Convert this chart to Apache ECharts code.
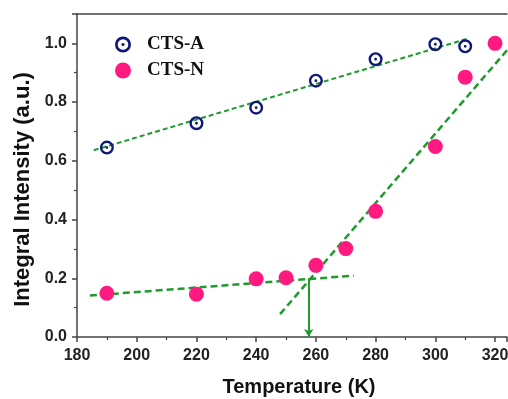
<!DOCTYPE html>
<html><head><meta charset="utf-8">
<script src="https://cdn.jsdelivr.net/npm/echarts@6/dist/echarts.min.js"></script>
<style>html,body{margin:0;padding:0;background:#fff}#c{width:508px;height:399px}</style>
</head><body><div id="c"></div>
<script>
var temperaturesA = [190, 220, 240, 260, 280, 300, 310];
var intensityA = [0.645, 0.728, 0.781, 0.873, 0.946, 0.997, 0.990];
var temperaturesN = [190, 220, 240, 250, 260, 270, 280, 300, 310, 320];
var intensityN = [0.149, 0.146, 0.198, 0.202, 0.244, 0.301, 0.428, 0.649, 0.885, 1.0];
var fitA = [[185.6, 0.636], [310.5, 1.015]];
var fitNLow = [[184.3, 0.141], [272.7, 0.209]];
var fitNHigh = [[248.0, 0.078], [326.0, 1.0]];
var arrowX = 257.6, arrowTop = 0.2, arrowBottom = 0.0;
var xTicks = [180, 200, 220, 240, 260, 280, 300, 320];
var yTicks = [0.0, 0.2, 0.4, 0.6, 0.8, 1.0];

var ringDot = 'path://M0,10 A10,10 0 1,1 20,10 A10,10 0 1,1 0,10 Z M3.4,10 A6.6,6.6 0 1,0 16.6,10 A6.6,6.6 0 1,0 3.4,10 Z M8,10 A2,2 0 1,1 12,10 A2,2 0 1,1 8,10 Z';
var green = '#1e9a2e';
function pairs(xs, ys){ return xs.map(function(x,i){return [x, ys[i]];}); }

var chart = echarts.init(document.getElementById('c'), null, {renderer:'canvas'});
chart.setOption({
  animation: false,
  backgroundColor: '#fff',
  grid: {left: 77, top: 14, right: 1, bottom: 62, containLabel: false, outerBoundsMode: 'none'},
  legend: {
    orient: 'vertical', left: 110, top: 30, itemGap: 7, itemWidth: 16, itemHeight: 16,
    data: [{name:'CTS-A', icon: ringDot}, {name:'CTS-N', icon:'circle'}],
    textStyle: {fontFamily: 'Liberation Serif', fontWeight: 'bold', fontSize: 19, color: '#111', padding:[0,0,0,11]}
  },
  xAxis: [{
    type: 'value', min: 180, max: 324, interval: 20, position: 'bottom',
    name: 'Temperature (K)', nameLocation: 'middle', nameGap: 40,
    nameTextStyle: {fontFamily: 'Liberation Sans', fontWeight: 'bold', fontSize: 20, color: '#111', padding: [0, 0, 0, 14]},
    axisLine: {show: true, onZero: false, lineStyle: {color: '#444', width: 1.5}},
    axisTick: {show: true, length: 5, lineStyle: {color: '#444', width: 1.5}},
    minorTick: {show: true, splitNumber: 2, length: 3, lineStyle: {color: '#444', width: 1.2}},
    axisLabel: {fontFamily: 'Liberation Sans', fontWeight: 'bold', fontSize: 16, color: '#222', margin: 11,
      formatter: function(v){ return xTicks.indexOf(v) >= 0 ? String(v) : ''; }},
    splitLine: {show: false}
  }, {
    type: 'value', min: 180, max: 324, position: 'top',
    axisLine: {show: true, onZero: false, lineStyle: {color: '#444', width: 1.5}},
    axisTick: {show: false}, axisLabel: {show: false}, splitLine: {show: false}
  }],
  yAxis: {
    type: 'value', min: 0, max: 1.1, interval: 0.2,
    name: 'Integral Intensity (a.u.)', nameLocation: 'middle', nameGap: 38,
    nameTextStyle: {fontFamily: 'Liberation Sans', fontWeight: 'bold', fontSize: 22, color: '#111', padding: [0, 28, 0, 0]},
    axisLine: {show: true, onZero: false, lineStyle: {color: '#444', width: 1.5}},
    axisTick: {show: true, length: 5, lineStyle: {color: '#444', width: 1.5}},
    minorTick: {show: true, splitNumber: 2, length: 3, lineStyle: {color: '#444', width: 1.2}},
    axisLabel: {fontFamily: 'Liberation Sans', fontWeight: 'bold', fontSize: 16, color: '#222', margin: 10,
      formatter: function(v){ var r = Math.round(v*10)/10; return yTicks.indexOf(r) >= 0 && Math.abs(v-r)<1e-6 ? r.toFixed(1) : ''; }},
    splitLine: {show: false}
  },
  series: [
    {name: 'fitA', type: 'line', data: fitA, symbol: 'none', silent: true, z: 1,
     lineStyle: {color: green, width: 2, type: [5, 3]}},
    {name: 'fitNLow', type: 'line', data: fitNLow, symbol: 'none', silent: true, z: 1,
     lineStyle: {color: green, width: 2.5, type: [7, 4]}},
    {name: 'fitNHigh', type: 'line', data: fitNHigh, symbol: 'none', silent: true, z: 1,
     lineStyle: {color: green, width: 2.5, type: [7, 4]},
     markLine: {silent: true, symbol: ['none', 'arrow'], symbolSize: [7, 8], label: {show: false},
       lineStyle: {color: green, width: 2, type: 'solid'},
       data: [[{coord: [arrowX, arrowTop]}, {coord: [arrowX, arrowBottom]}]]}},
    {name: 'CTS-A', type: 'scatter', data: pairs(temperaturesA, intensityA), symbol: ringDot, symbolSize: 14,
     itemStyle: {color: '#0f1677', opacity: 1}, z: 3},
    {name: 'CTS-N', type: 'scatter', data: pairs(temperaturesN, intensityN), symbol: 'circle', symbolSize: 15,
     itemStyle: {color: '#ff1a7f', opacity: 1}, z: 3}
  ]
});
</script></body></html>
